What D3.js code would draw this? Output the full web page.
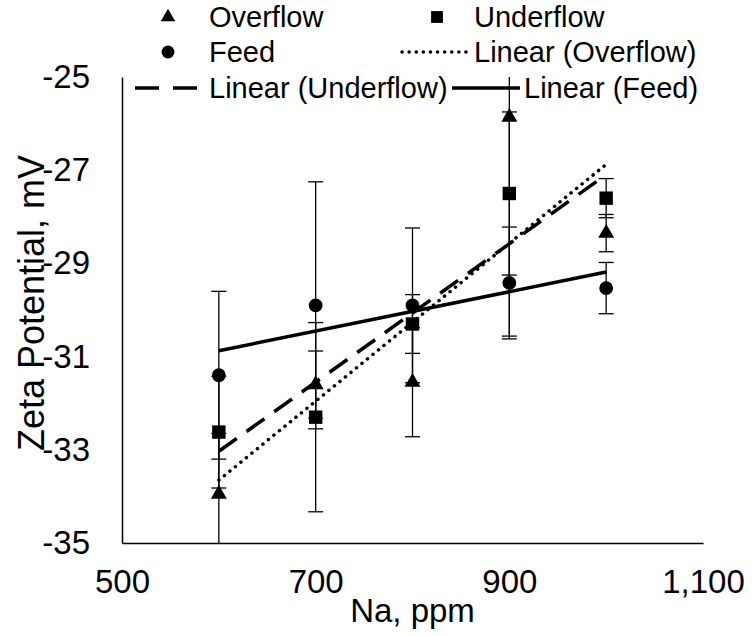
<!DOCTYPE html>
<html><head><meta charset="utf-8">
<script src="https://cdn.jsdelivr.net/npm/d3@7"></script>
<style>body{margin:0;background:#fff}svg{display:block}text{font-family:"Liberation Sans",Arial,sans-serif;fill:#000}</style>
</head><body><svg id="c" width="755" height="636"></svg>
<script>
const naPpm = [600, 700, 800, 900, 1000];
const overflow = [-33.95, -31.6, -31.55, -25.86, -28.35];
const overflowErr = [1.3, 0.72, 1.17, 4.7, 0.4];
const underflow = [-32.62, -32.3, -30.3, -27.5, -27.6];
const underflowErr = [1.2, 2.03, 0.63, 1.75, 0.42];
const feed = [-31.4, -29.9, -29.9, -29.42, -29.53];
const feedErr = [1.8, 2.65, 1.66, 1.2, 0.55];
const xTicks = [500, 700, 900, 1100];
const yTicks = [-35, -33, -31, -29, -27, -25];

const svg = d3.select("#c");
const x = d3.scaleLinear().domain([500, 1100]).range([122, 703]);
const y = d3.scaleLinear().domain([-35, -25]).range([543, 77]);

svg.append("defs").append("clipPath").attr("id","clip").append("rect")
  .attr("x",x(500)).attr("y",y(-25)).attr("width",x(1100)-x(500)).attr("height",y(-35)-y(-25));

const xAxis = d3.axisBottom(x).tickValues(xTicks).tickSize(0).tickPadding(27)
  .tickFormat(d3.format(","));
const gx = svg.append("g").attr("transform",`translate(0,${y(-35)})`).call(xAxis);
gx.select(".domain").attr("stroke","#000").attr("stroke-width",1.5);
gx.selectAll("text").attr("font-size",33).attr("font-family","Liberation Sans, Arial").attr("fill","#000");

const yAxis = d3.axisLeft(y).tickValues(yTicks).tickSize(0).tickPadding(32)
  .tickFormat(d => String(d));
const gy = svg.append("g").attr("transform",`translate(${x(500)},0)`).call(yAxis);
gy.select(".domain").attr("stroke","#000").attr("stroke-width",1.5);
gy.selectAll("text").attr("font-size",33).attr("font-family","Liberation Sans, Arial").attr("fill","#000");

svg.append("text").attr("x",(x(500)+x(1100))/2).attr("y",622).attr("text-anchor","middle")
  .attr("font-size",33).text("Na, ppm");
svg.append("text").attr("transform",`translate(44,303) rotate(-90)`)
  .attr("text-anchor","middle").attr("font-size",36).text("Zeta Potential, mV");

const series = [
  {name:"Overflow", vals:overflow, err:overflowErr, shape:d3.symbolTriangle, size:110, dash:"0.1 7"},
  {name:"Underflow", vals:underflow, err:underflowErr, shape:d3.symbolSquare, size:180, dash:"22 12"},
  {name:"Feed", vals:feed, err:feedErr, shape:d3.symbolCircle, size:150, dash:null}
];

const g = svg.append("g").attr("clip-path","url(#clip)");
series.forEach(s=>{
  s.vals.forEach((v,i)=>{
    const cx = x(naPpm[i]);
    g.append("line").attr("x1",cx).attr("x2",cx).attr("y1",y(v+s.err[i])).attr("y2",y(v-s.err[i]))
      .attr("stroke","#000").attr("stroke-width",1.3);
    [v+s.err[i], v-s.err[i]].forEach(e=>{
      g.append("line").attr("x1",cx-7.5).attr("x2",cx+7.5).attr("y1",y(e)).attr("y2",y(e))
        .attr("stroke","#000").attr("stroke-width",1.3);
    });
  });
});
function fit(vals){
  const mx=d3.mean(naPpm), my=d3.mean(vals);
  const b=d3.sum(naPpm,(d,i)=>(d-mx)*(vals[i]-my))/d3.sum(naPpm,d=>(d-mx)*(d-mx));
  return v=>my+b*(v-mx);
}
series.forEach(s=>{
  const f=fit(s.vals), x0=d3.min(naPpm), x1=d3.max(naPpm);
  const ln=g.append("line").attr("x1",x(x0)).attr("x2",x(x1)).attr("y1",y(f(x0))).attr("y2",y(f(x1)))
    .attr("stroke","#000").attr("stroke-width",3.5);
  if(s.dash){ ln.attr("stroke-dasharray",s.dash); if(s.name==="Overflow") ln.attr("stroke-linecap","round"); }
});
series.forEach(s=>{
  s.vals.forEach((v,i)=>{
    g.append("path").attr("d",d3.symbol().type(s.shape).size(s.size)())
      .attr("transform",`translate(${x(naPpm[i])},${y(v)})`).attr("fill","#000");
  });
});

const L = svg.append("g");
function lsym(shape,size,cx,cy){L.append("path").attr("d",d3.symbol().type(shape).size(size)()).attr("transform",`translate(${cx},${cy})`).attr("fill","#000");}
function lline(x1,x2,cy,dash,cap){const l=L.append("line").attr("x1",x1).attr("x2",x2).attr("y1",cy).attr("y2",cy).attr("stroke","#000").attr("stroke-width",3.5);if(dash)l.attr("stroke-dasharray",dash);if(cap)l.attr("stroke-linecap",cap);}
function ltxt(t,tx,cy){L.append("text").attr("x",tx).attr("y",cy).attr("dy","0.35em").attr("font-size",29).text(t);}
const r1=17,r2=52,r3=88;
lsym(d3.symbolTriangle,90,168,r1); ltxt("Overflow",209,r1);
lsym(d3.symbolSquare,140,437,r1); ltxt("Underflow",474,r1);
lsym(d3.symbolCircle,130,168,r2); ltxt("Feed",209,r2);
lline(402,470,r2,"0.1 7","round"); ltxt("Linear (Overflow)",474,r2);
lline(135,205,r3,"24 14"); ltxt("Linear (Underflow)",209,r3);
lline(452,520,r3,null); ltxt("Linear (Feed)",524,r3);
</script></body></html>
